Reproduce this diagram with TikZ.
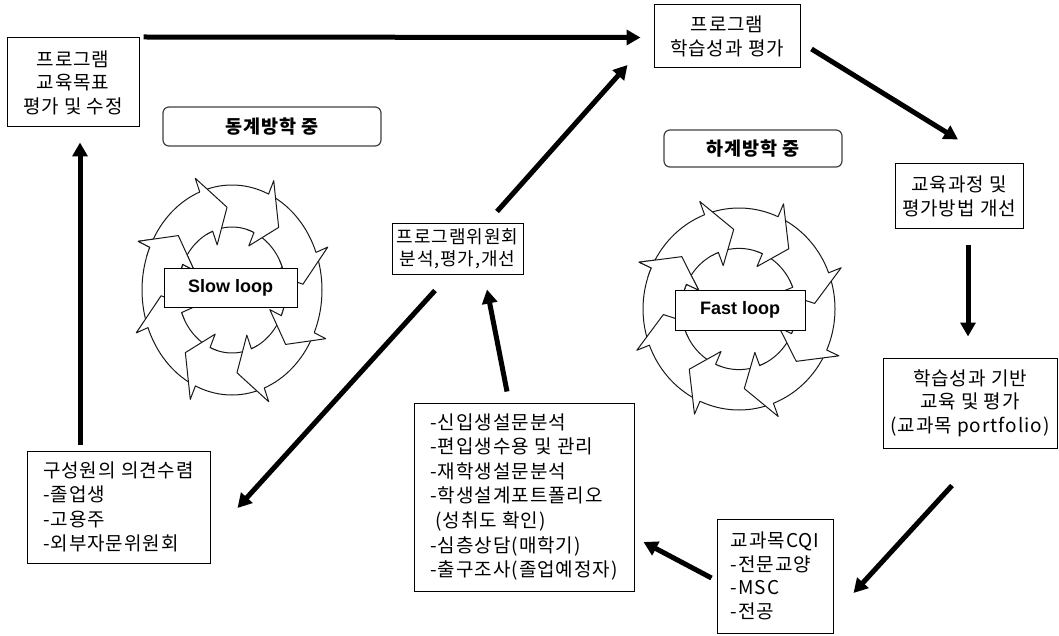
\documentclass[tikz,border=0pt]{standalone}
\usepackage{fontspec}
\setmainfont{Noto Sans CJK KR}[LetterSpace=5]
\newfontfamily\latfont{Liberation Sans}
\usetikzlibrary{arrows.meta,calc}

\newcommand{\cycarrow}[1]{%
  \pgfmathsetmacro{\ta}{#1+40}%
  \pgfmathsetmacro{\tb}{#1}%
  \pgfmathsetmacro{\tc}{#1-17}%
  \pgfmathsetmacro{\td}{#1+52}%
  \filldraw[cyc] (\ta:1) -- plot[domain=\ta:\tb, samples=16] (\x:1) -- (\tb:1.14) -- (\tc:0.79) -- (\tb:0.46) -- (\tb:0.6) -- plot[domain=\tb:\td, samples=18] (\x:0.6) -- cycle;}

\newcommand{\cychead}[1]{%
  \pgfmathsetmacro{\tb}{#1}%
  \pgfmathsetmacro{\tc}{#1-17}%
  \pgfmathsetmacro{\te}{#1+6}%
  \fill[white] (\te:1) -- (\tb:1) -- (\tb:1.14) -- (\tc:0.79) -- (\tb:0.46) -- (\tb:0.6) -- (\te:0.6) -- cycle;
  \draw[cyc] plot[domain=\te:\tb, samples=4] (\x:1) -- (\tb:1.14) -- (\tc:0.79) -- (\tb:0.46) -- (\tb:0.6) -- plot[domain=\tb:\te, samples=4] (\x:0.6);}

\newcommand{\cycring}{%
  \foreach \h in {-204,-159,-114,-69,-24,21,66,111} {\cycarrow{\h}}%
  \cychead{-204}}

\begin{document}
\begin{tikzpicture}[x=1pt,y=-1pt,
  box/.style={draw, line width=1pt, fill=white, inner sep=0pt, align=center, font=\fontsize{19}{23.5}\selectfont},
  lbl/.style={draw=black!75, line width=1.2pt, rounded corners=6pt, inner sep=0pt, font=\bfseries\fontsize{18.5}{20}\selectfont},
  loopbox/.style={draw, line width=1pt, fill=white, inner sep=0pt, font=\latfont\bfseries\fontsize{18}{20}\selectfont},
  conn/.style={line width=5pt, -{Triangle[length=14pt,width=15pt]}},
  cyc/.style={fill=white, draw=black!90, line width=1pt, line join=round}]
\useasboundingbox (0,0) rectangle (1059,636);

% cycle icons
\begin{scope}[shift={(232,290)}, xscale=90, yscale=-105]
  \cycring
\end{scope}
\begin{scope}[shift={(739,309)}, xscale=96, yscale=-101]
  \cycring
\end{scope}

% nodes
\node[box, minimum width=132pt, minimum height=89pt] (A) at (73,82.5) {프로그램\\교육목표\\평가 및 수정};
\node[box, minimum width=146pt, minimum height=63pt] (B) at (727,36.5) {프로그램\\학습성과 평가};
\node[box, minimum width=128pt, minimum height=65pt] (C) at (959,196.5) {교육과정 및\\평가방법 개선};
\node[box, minimum width=174pt, minimum height=90pt] (D) at (970,403) {학습성과 기반\\교육 및 평가\\(교과목 portfolio)};
\node[box, align=left, minimum width=116pt, minimum height=114pt] (E) at (775,576) {교과목CQI\\-전문교양\\-MSC\\-전공};
\node[box, align=left, minimum width=220pt, minimum height=188pt, font=\fontsize{19}{24.5}\selectfont] (F) at (524,497) {-신입생설문분석\\-편입생수용 및 관리\\-재학생설문분석\\-학생설계포트폴리오\\\hspace{5pt}(성취도 확인)\\-심층상담(매학기)\\-출구조사(졸업예정자)};
\node[box, minimum width=131pt, minimum height=50pt, font=\fontsize{18}{22.5}\selectfont] (G) at (457.5,249) {프로그램위원회\\분석,평가,개선};
\node[box, align=left, minimum width=183pt, minimum height=112pt, font=\fontsize{19}{24.5}\selectfont] (H) at (118.5,507) {구성원의 의견수렴\\-졸업생\\-고용주\\-외부자문위원회};

\node[lbl, minimum width=218pt, minimum height=39pt] (W) at (272,126.5) {동계방학 중};
\node[lbl, minimum width=178pt, minimum height=37pt] (S) at (753,148.5) {하계방학 중};
\node[loopbox, minimum width=133pt, minimum height=39pt] (SL) at (230.5,287.5) {Slow loop};
\node[loopbox, minimum width=130pt, minimum height=40pt] (FL) at (740,310) {Fast loop};

% connectors
\draw[conn] ($(A.north east)+(4,-0.5)$) -- ($(B.west)+(-13,1)$);
\draw[conn] ($(B.east)+(11,12.5)$) -- ($(C.north)+(-1,-24)$);
\draw[conn] ($(C.south)+(9,16)$) -- ($(D.north)+(-2,-21)$);
\draw[conn] ($(D.south)+(-18,37)$) -- ($(E.east)+(20,17)$);
\draw[conn] ($(E.west)+(-5,2)$) -- ($(F.east)+(9,45)$);
\draw[conn] ($(F.north)+(-17,-11)$) -- ($(G.south)+(29.5,15)$);
\draw[conn] ($(G.north)+(39.5,-12)$) -- ($(B.west)+(-26,28.5)$);
\draw[conn] ($(G.south)+(-22.5,16)$) -- ($(H.east)+(27,1)$);
\draw[conn] ($(H.north)+(-38.5,-6)$) -- ($(A.south)+(7,15)$);
\end{tikzpicture}
\end{document}
